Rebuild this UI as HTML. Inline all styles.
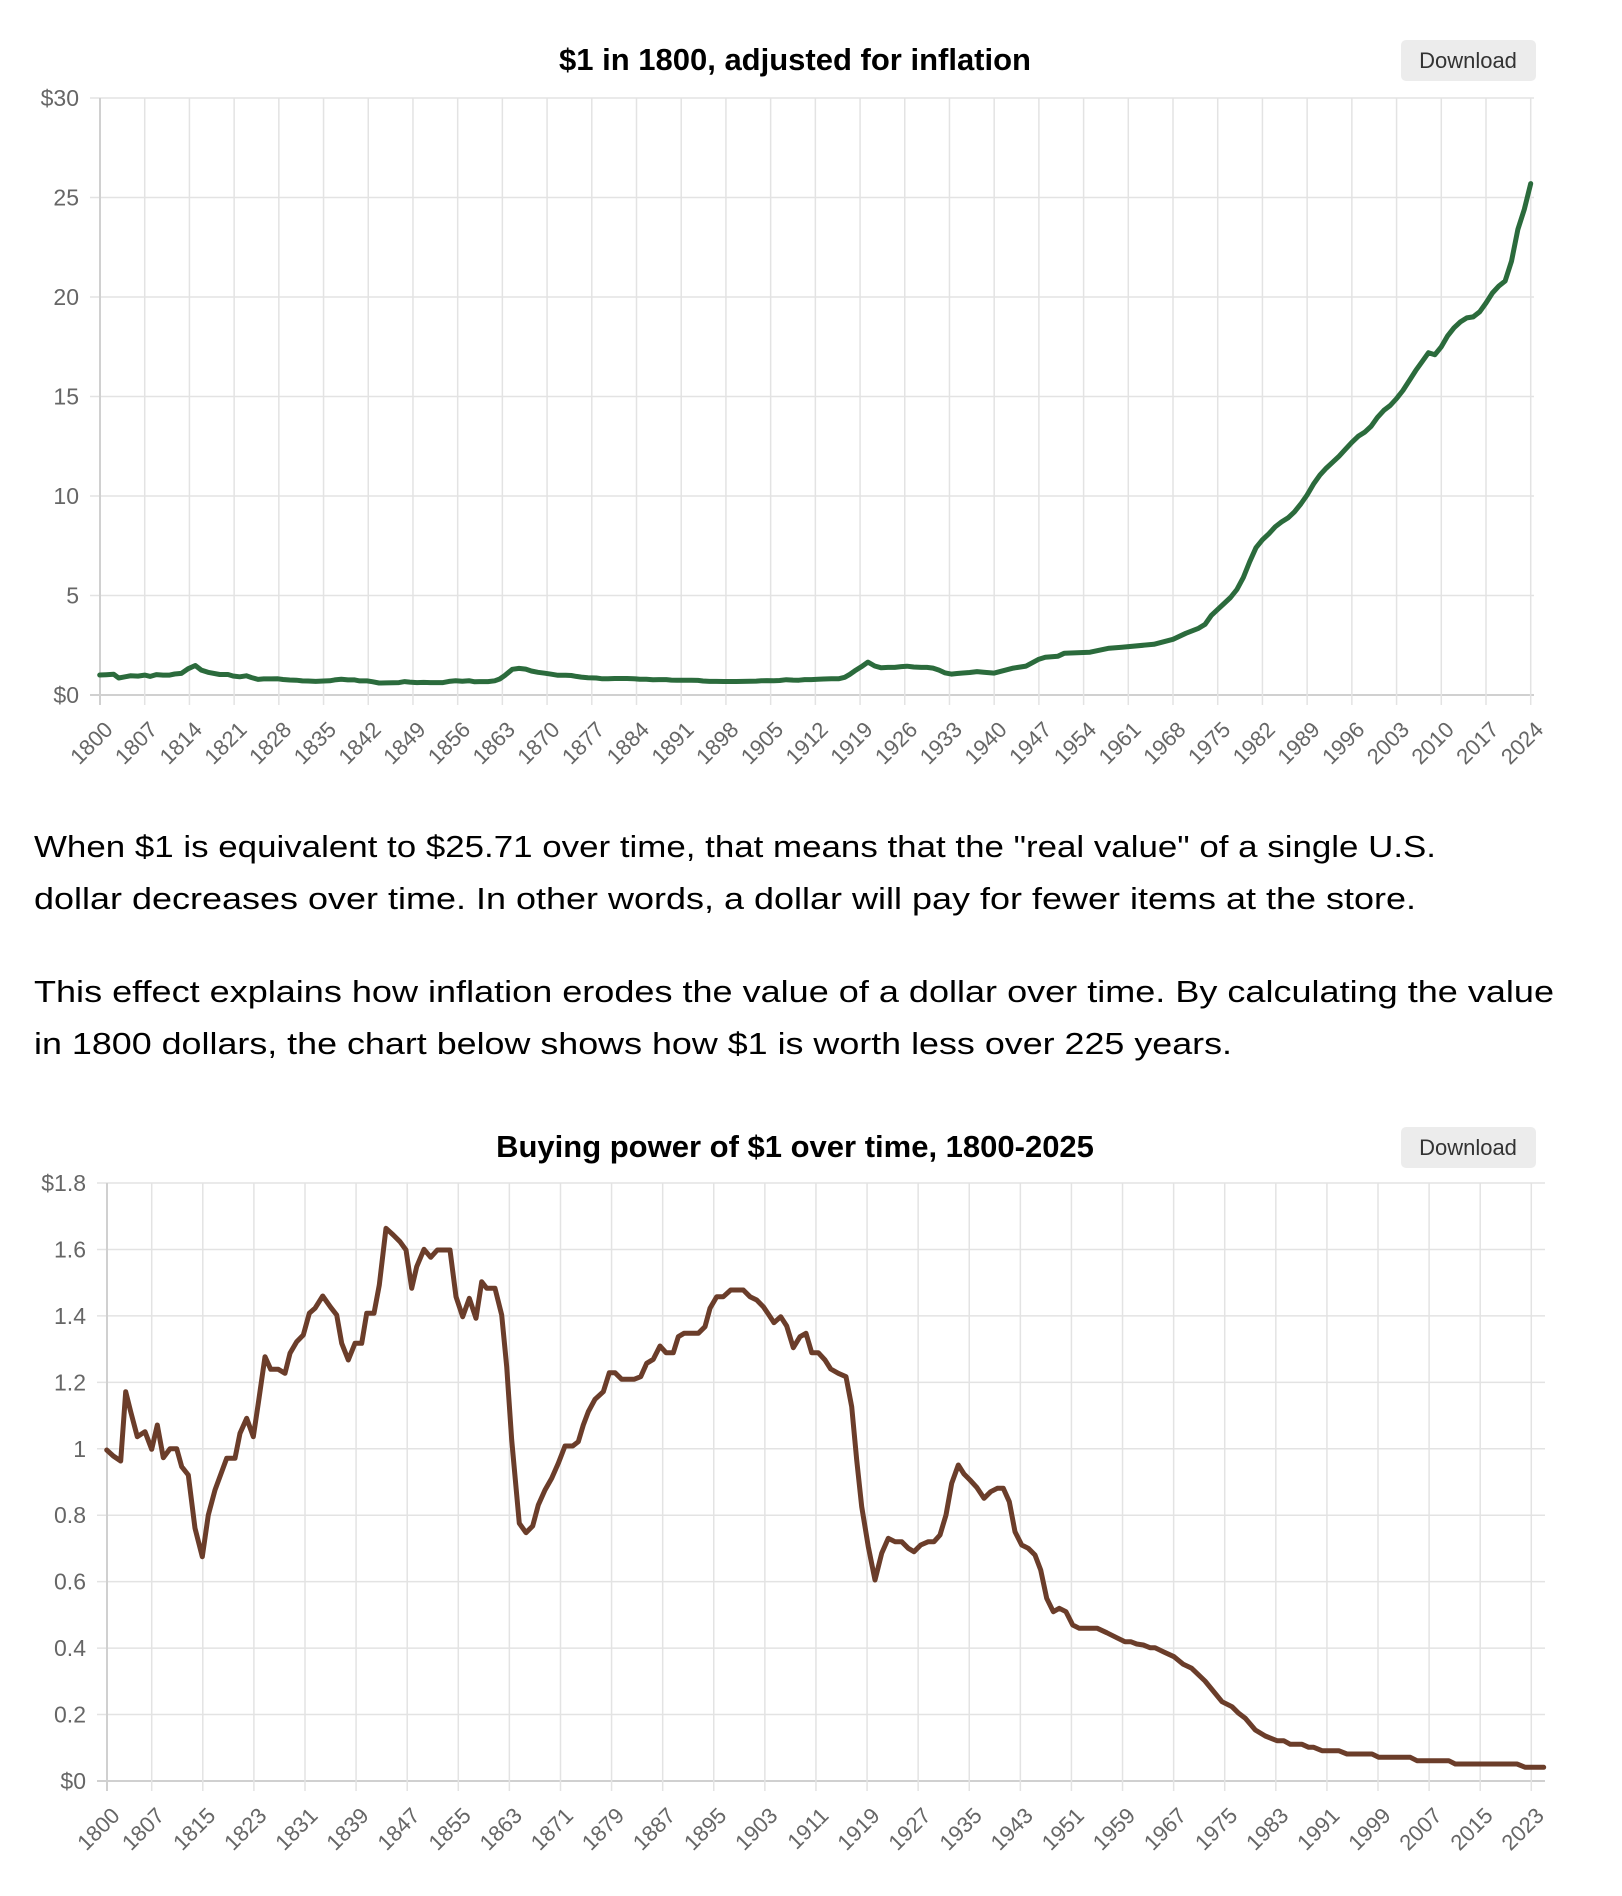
<!DOCTYPE html>
<html><head><meta charset="utf-8">
<style>
html,body{margin:0;padding:0;background:#fff;}
svg{display:block;}
text{font-family:"Liberation Sans",Arial,sans-serif;}
</style></head>
<body>
<svg id="s" width="1622" height="1896" viewBox="0 0 1622 1896" xmlns="http://www.w3.org/2000/svg">
<rect width="1622" height="1896" fill="#fff"/>
<g id="g1"></g>
<g id="g2"></g>
<text x="795" y="70" text-anchor="middle" font-size="31" font-weight="bold" fill="#000">$1 in 1800, adjusted for inflation</text>
<rect x="1401" y="40" width="135" height="41" rx="5" fill="#ececec"/>
<text x="1468" y="68" text-anchor="middle" font-size="22" fill="#333">Download</text>
<text x="795" y="1157" text-anchor="middle" font-size="31" font-weight="bold" fill="#000">Buying power of $1 over time, 1800-2025</text>
<rect x="1401" y="1127" width="135" height="41" rx="5" fill="#ececec"/>
<text x="1468" y="1155" text-anchor="middle" font-size="22" fill="#333">Download</text>
<g font-size="31" fill="#000">
<text x="34" y="857" textLength="1402" lengthAdjust="spacingAndGlyphs">When $1 is equivalent to $25.71 over time, that means that the "real value" of a single U.S.</text>
<text x="34" y="909" textLength="1382" lengthAdjust="spacingAndGlyphs">dollar decreases over time. In other words, a dollar will pay for fewer items at the store.</text>
<text x="34" y="1002" textLength="1520" lengthAdjust="spacingAndGlyphs">This effect explains how inflation erodes the value of a dollar over time. By calculating the value</text>
<text x="34" y="1054" textLength="1198" lengthAdjust="spacingAndGlyphs">in 1800 dollars, the chart below shows how $1 is worth less over 225 years.</text>
</g>
</svg>
<script>
(function(){
var NS="http://www.w3.org/2000/svg";
function el(p,tag,attrs,txt){var e=document.createElementNS(NS,tag);for(var k in attrs)e.setAttribute(k,attrs[k]);if(txt!=null)e.textContent=txt;p.appendChild(e);return e;}
var PX=6.387;
function conv(a,ox,oy){var r=[];for(var i=0;i<a.length;i+=2)r.push([ox+a[i]/3,oy+a[i+1]/3]);return r;}
var z6=[20,750,40,768,62,783,77,575,92,635,112,710,135,695,155,748,172,675,190,773,210,746,230,746,245,800,265,825,285,985,307,1070,325,945,345,870,380,775,405,775,420,700,440,655,460,710,475,610,495,470,512,508,535,508,555,520,570,460,590,425,610,405,628,340,645,325,668,288,692,322,710,345,725,430,745,480,765,430,785,430,800,340,822,340,838,255,858,85,880,105,900,125,918,150,935,265,950,200,972,148,992,172,1012,150,1050,150,1068,290,1088,350,1108,295,1128,355,1145,245,1160,265,1185,265];
var z7=[65,345,80,500,95,720,118,970,138,998,158,978,175,915,195,870,215,835,235,790,255,738,278,738,295,725,310,675,325,635,345,598,370,575,388,518,405,518,425,538,462,538,482,530,500,490,520,478,540,438,558,458,580,458,595,410,612,400,655,400,675,380,690,325,710,290,730,290,752,270,790,270,810,290,830,300,850,320,865,342,882,368,902,350,920,378,940,443,960,410,978,400,995,458,1015,458,1035,480,1052,507,1075,520,1098,530,1115,620,1130,780,1145,920,1165,1040];
var z8=[45,990,65,910,85,865,105,875,125,875,145,895,162,905,182,885,205,875,222,875,240,855,258,795,275,700,295,645,312,672,330,690,350,712,372,745,392,725,412,715,430,715,448,755,465,845,485,885,505,895,525,915,542,960,560,1045,580,1085,598,1075,618,1085,638,1125,658,1135,712,1135,740,1148,770,1163,795,1175,812,1175,830,1182,850,1185,870,1193,885,1193,910,1205,942,1220,970,1243,995,1255];
var z4=[0,5,30,20,50,40,70,55,100,90,130,108,165,122,185,122,205,133,240,133,260,142,275,142,300,152,350,152,375,162,450,162,470,172,565,172,585,182,680,182,700,192,885,192,910,202,965,202];
var p2=[].concat(conv(z6,100,1200),conv(z7,480,1200),conv(z8,860,1250),[[1205,1681]],conv(z4,1222,1700));
var p1=[];
for(var i=0;i<p2.length;i++){var x2=p2[i][0],y2=p2[i][1];if(x2>995)break;var bp=(1781-y2)/332.2;var v=1/bp;p1.push([x2-7,695-v*19.9]);}
var tail=[1940,1.1,1943,1.35,1945,1.45,1947,1.8,1948,1.9,1950,1.95,1951,2.1,1955,2.15,1958,2.35,1960,2.4,1965,2.55,1968,2.8,1970,3.1,1972,3.35,1973,3.55,1974,4.0,1975,4.3,1976,4.6,1977,4.9,1978,5.3,1979,5.9,1980,6.7,1981,7.4,1982,7.8,1983,8.1,1984,8.45,1985,8.7,1986,8.9,1987,9.2,1988,9.6,1989,10.05,1990,10.6,1991,11.05,1992,11.4,1993,11.7,1994,12.0,1995,12.35,1996,12.7,1997,13.0,1998,13.2,1999,13.5,2000,13.95,2001,14.3,2002,14.55,2003,14.9,2004,15.3,2005,15.8,2006,16.3,2007,16.75,2008,17.2,2009,17.1,2010,17.5,2011,18.05,2012,18.45,2013,18.75,2014,18.95,2015,19.0,2016,19.25,2017,19.7,2018,20.2,2019,20.55,2020,20.8,2021,21.8,2022,23.4,2023,24.4,2024,25.7];
for(var i=0;i<tail.length;i+=2)p1.push([100+(tail[i]-1800)*PX,695-tail[i+1]*19.9]);

function chart(g,x0,xEnd,yTop,yBot,years,firstYear,yvals,ylabels,ymax,pts,color){
  var grid="#e3e3e3";
  for(var i=0;i<yvals.length;i++){var y=yBot-(yvals[i]/ymax)*(yBot-yTop);
    el(g,"line",{x1:x0-10,x2:xEnd,y1:y,y2:y,stroke:i==0?"#d0d0d0":grid,"stroke-width":i==0?2:1.5});
    el(g,"text",{x:x0-21,y:y+8,"text-anchor":"end","font-size":"23",fill:"#666"},ylabels[i]);}
  for(var i=0;i<years.length;i++){var x=x0+(years[i]-firstYear)*PX;
    el(g,"line",{x1:x,x2:x,y1:yTop,y2:yBot+10,stroke:i==0?"#d0d0d0":grid,"stroke-width":i==0?2:1.5});
    el(g,"text",{transform:"translate("+(x+14)+","+(yBot+36)+") rotate(-45)","text-anchor":"end","font-size":"22",fill:"#666"},String(years[i]));}
  var d="";for(var i=0;i<pts.length;i++)d+=(i?"L":"M")+pts[i][0].toFixed(1)+","+pts[i][1].toFixed(1);
  el(g,"path",{d:d,fill:"none",stroke:color,"stroke-width":5,"stroke-linejoin":"round","stroke-linecap":"round"});
}
var y1=[];for(var y=1800;y<=2024;y+=7)y1.push(y);
chart(document.getElementById("g1"),100,1534,98,695,y1,1800,[0,5,10,15,20,25,30],["$0","5","10","15","20","25","$30"],30,p1,"#2b6b3c");
var y2=[1800,1807];for(var y=1815;y<=2023;y+=8)y2.push(y);
chart(document.getElementById("g2"),107,1545,1183,1781,y2,1800,[0,0.2,0.4,0.6,0.8,1,1.2,1.4,1.6,1.8],["$0","0.2","0.4","0.6","0.8","1","1.2","1.4","1.6","$1.8"],1.8,p2,"#6b3d2a");
})();
</script>
</body></html>
